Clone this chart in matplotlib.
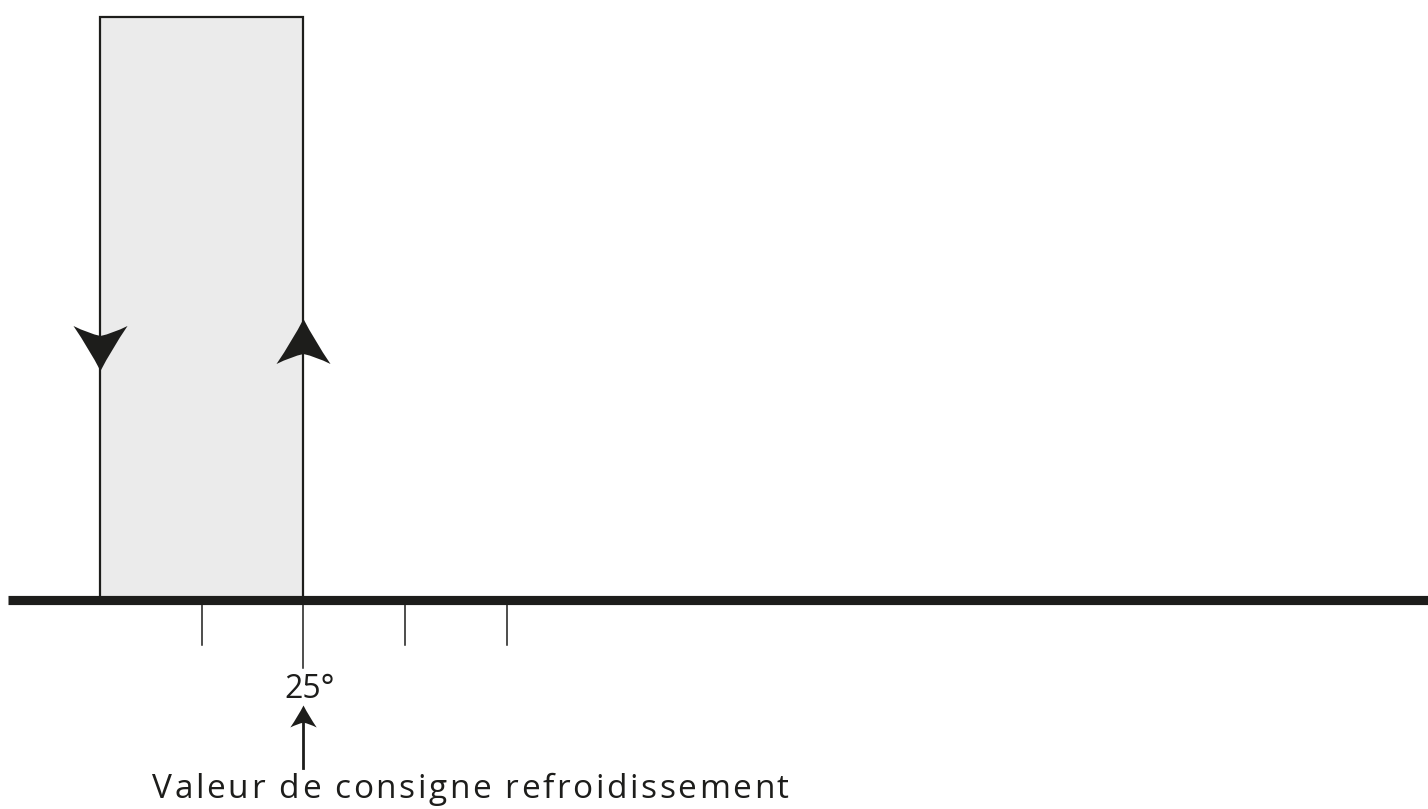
import matplotlib
matplotlib.use("Agg")
import matplotlib.pyplot as plt
from matplotlib.path import Path
from matplotlib.markers import MarkerStyle
from matplotlib.font_manager import FontProperties

# temperature axis (deg C) and hysteresis band
axis_range = [22.1, 36.1]
tick_values = [24, 25, 26, 27]
band_low, band_high = 23, 25
setpoint = 25
setpoint_label = "25°"
caption = "Valeur de consigne refroidissement"
# vertical position of the direction arrows on each edge (0 = off, 1 = on)
arrow_down_y = 0.433
arrow_up_y = 0.445

ink = "#1d1d1b"
plt.rcParams['font.family'] = ['Open Sans', 'DejaVu Sans']

fig = plt.figure(figsize=(14.28, 8.09), dpi=100)
ax = fig.add_axes([0, 0, 1, 1])
ax.set_xlim(22.017, 36.058)
ax.set_ylim(-0.3585, 1.0292)
ax.axis('off')


def stealth(direction):
    # curved "stealth" arrow head, pointing down for direction=-1
    s = direction
    verts = [(0, 22.5 * s), (-11, 1 * s), (-27, -22.5 * s),
             (-12, -15 * s), (0, -12.5 * s),
             (12, -15 * s), (27, -22.5 * s),
             (11, 1 * s), (0, 22.5 * s), (0, 22.5 * s)]
    codes = [Path.MOVETO, Path.CURVE3, Path.CURVE3,
             Path.CURVE3, Path.CURVE3,
             Path.CURVE3, Path.CURVE3,
             Path.CURVE3, Path.CURVE3, Path.CLOSEPOLY]
    return MarkerStyle(Path(verts, codes))


# band
ax.fill_between([band_low, band_high], 0, 1, color="#ebebeb", lw=0, zorder=1)
ax.plot([band_low, band_low, band_high, band_high], [0, 1, 1, 0],
        color=ink, lw=1.6, solid_joinstyle='miter', zorder=2)

# main axis
ax.plot(axis_range, [0, 0], color=ink, lw=6.6, solid_capstyle='butt', zorder=3)

# ticks
for t in tick_values:
    bottom = -0.1166 if t == setpoint else -0.077
    ax.plot([t, t], [-0.006, bottom], color=ink, lw=1.1, zorder=3)

# direction arrows on the band edges
ax.plot(band_low, arrow_down_y, marker=stealth(-1), ms=38.9, color=ink,
        mec='none', zorder=4)
ax.plot(band_high, arrow_up_y, marker=stealth(1), ms=38.9, color=ink,
        mec='none', zorder=4)

# set-point label and pointer
ax.annotate(setpoint_label, xy=(setpoint, -0.168), xytext=(4.5, 0),
            textcoords='offset points', ha='center', va='baseline',
            fontsize=23, color=ink)
ax.plot([setpoint, setpoint], [-0.288, -0.205], color=ink, lw=2, zorder=3)
ax.plot(setpoint, -0.1995, marker=stealth(1), ms=19, color=ink,
        mec='none', zorder=4)

# caption, drawn letter by letter with a little extra tracking
renderer = fig.canvas.get_renderer()
fp = FontProperties(family=['Open Sans', 'DejaVu Sans'], size=24)
x0, y0 = ax.transData.transform((23.51, -0.3396))
track = 2.6
for i, ch in enumerate(caption):
    w = renderer.get_text_width_height_descent(caption[:i], fp, ismath=False)[0] if i else 0
    ax.text(x0 + w + i * track, y0, ch, transform=None, ha='left',
            va='baseline', fontproperties=fp, color=ink)

fig.savefig("out.png", dpi=100)
